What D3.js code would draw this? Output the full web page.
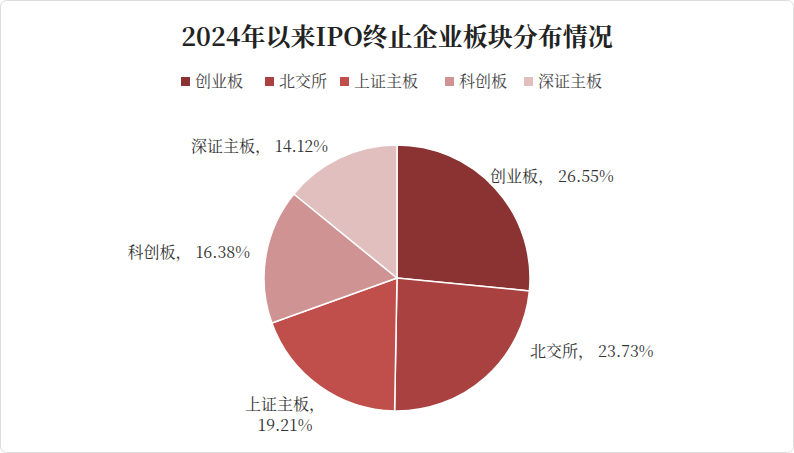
<!DOCTYPE html><html><head><meta charset="utf-8"><script src="https://cdn.jsdelivr.net/npm/d3@7"></script>
<style>body{margin:0;background:#fff}</style></head><body><svg id="c" width="794" height="453"></svg>
<script>
const categories=["创业板","北交所","上证主板","科创板","深证主板"];
const values=[26.55,23.73,19.21,16.38,14.12];
const colors=["#8B3333","#A94141","#C04F4C","#D09393","#E2BFBF"];
const svg=d3.select("#c");
const font="'Noto Serif CJK SC','Noto Sans CJK SC',serif";
svg.append("rect").attr("x",0.5).attr("y",0.5).attr("width",793).attr("height",452).attr("rx",6).attr("fill","#fff").attr("stroke","#ddd");
svg.append("text").attr("x",397).attr("y",46).attr("text-anchor","middle").attr("font-size",25).attr("font-weight","bold").attr("font-family",font).attr("fill","#222").text("2024年以来IPO终止企业板块分布情况");
const lx=[181,265,340,445,524];
const lg=svg.append("g");
categories.forEach((c,i)=>{
 lg.append("rect").attr("x",lx[i]).attr("y",77).attr("width",9).attr("height",9).attr("fill",colors[i]);
 lg.append("text").attr("x",lx[i]+14).attr("y",87).attr("font-size",16).attr("font-family",font).attr("fill","#444").text(c);
});
const cx=397,cy=278,r=133;
const pie=d3.pie().sort(null).value(d=>d)(values);
const arc=d3.arc().innerRadius(0).outerRadius(r);
const g=svg.append("g").attr("transform",`translate(${cx},${cy})`);
g.selectAll("path").data(pie).join("path").attr("d",arc).attr("fill",(d,i)=>colors[i]).attr("stroke","#fff").attr("stroke-width",1.5);
const labels=[[490,182,"start",[categories[0]+"， "+values[0].toFixed(2)+"%"]],
[530,357,"start",[categories[1]+"， "+values[1].toFixed(2)+"%"]],
[285,410,"middle",[categories[2]+"，",values[2].toFixed(2)+"%"]],
[250,258,"end",[categories[3]+"， "+values[3].toFixed(2)+"%"]],
[328,152,"end",[categories[4]+"， "+values[4].toFixed(2)+"%"]]];
labels.forEach(([x,y,a,lines])=>{
 lines.forEach((t,j)=>svg.append("text").attr("x",x).attr("y",y+j*21).attr("text-anchor",a).attr("font-size",16).attr("font-family",font).attr("fill","#333").text(t));
});
</script></body></html>
